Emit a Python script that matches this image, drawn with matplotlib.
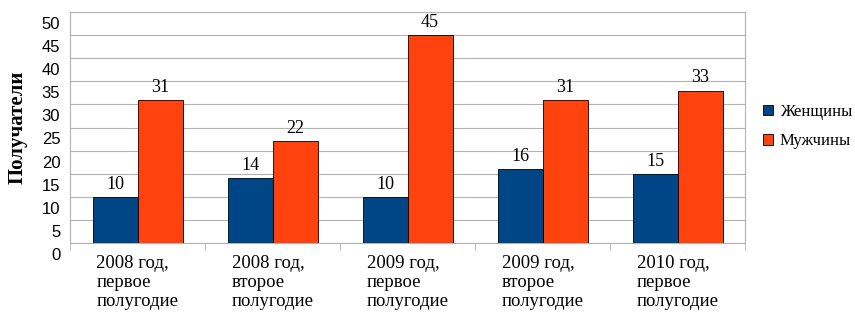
import matplotlib
matplotlib.use('Agg')
from matplotlib import pyplot as plt
from matplotlib.transforms import ScaledTranslation
import numpy as np

categories = ['2008 год,\nпервое\nполугодие', '2008 год,\nвторое\nполугодие',
              '2009 год,\nпервое\nполугодие', '2009 год,\nвторое\nполугодие',
              '2010 год,\nпервое\nполугодие']
women = [10, 14, 10, 16, 15]
men = [31, 22, 45, 31, 33]
yticks = list(range(0, 55, 5))

serif = ['Liberation Serif', 'DejaVu Serif']
sans = ['Liberation Sans', 'DejaVu Sans']

fig = plt.figure(figsize=(8.55, 3.12), dpi=100)
ax = fig.add_axes([70 / 855, 1 - 243 / 312, 675 / 855, 231 / 312])

x = np.arange(len(categories))
w = 1 / 3
b1 = ax.bar(x - w / 2, women, w, color='#004586', edgecolor='black', linewidth=0.6, label='Женщины', zorder=3)
b2 = ax.bar(x + w / 2, men, w, color='#ff420e', edgecolor='black', linewidth=0.6, label='Мужчины', zorder=3)
for bars in (b1, b2):
    for r in bars:
        ax.text(r.get_x() + r.get_width() / 2, r.get_height() + 0.9, str(int(r.get_height())),
                ha='center', va='bottom', fontsize=13, family=serif)

ax.set_xlim(-0.5, len(categories) - 0.5)
ax.set_ylim(0, 50)
ax.set_yticks(yticks)
ax.set_yticklabels([str(v) for v in yticks], family=sans, fontsize=12)
ax.tick_params(axis='y', length=0, pad=7)
# labels sit a little below their grid lines, as in the original
off = ScaledTranslation(0, -11 / 100, fig.dpi_scale_trans)
for lab in ax.get_yticklabels():
    lab.set_transform(lab.get_transform() + off)

ax.set_xticks(x)
ax.set_xticklabels(categories, family=serif, fontsize=13.5, multialignment='left', linespacing=1.12)
ax.tick_params(axis='x', length=0, pad=9)
ax.set_xticks(np.arange(-0.5, len(categories)), minor=True)
ax.tick_params(axis='x', which='minor', length=5, color='#b3b3b3', direction='out')

ax.grid(axis='y', color='#b3b3b3', linewidth=0.8, zorder=0)
for s in ax.spines.values():
    s.set_color('#b3b3b3')
    s.set_linewidth(0.8)

ax.set_ylabel('Получатели', family=serif, fontsize=15, fontweight='bold')
ax.yaxis.set_label_coords(-42 / 675, 0.5)

fig.legend(handles=[b1, b2], loc='upper left', bbox_to_anchor=(763 / 855, 1 - 104 / 312),
           frameon=False, prop={'family': serif, 'size': 12}, handlelength=0.6, handleheight=0.6,
           handletextpad=0.4, labelspacing=0.8, borderaxespad=0, borderpad=0)

fig.savefig('out.png', dpi=100)
